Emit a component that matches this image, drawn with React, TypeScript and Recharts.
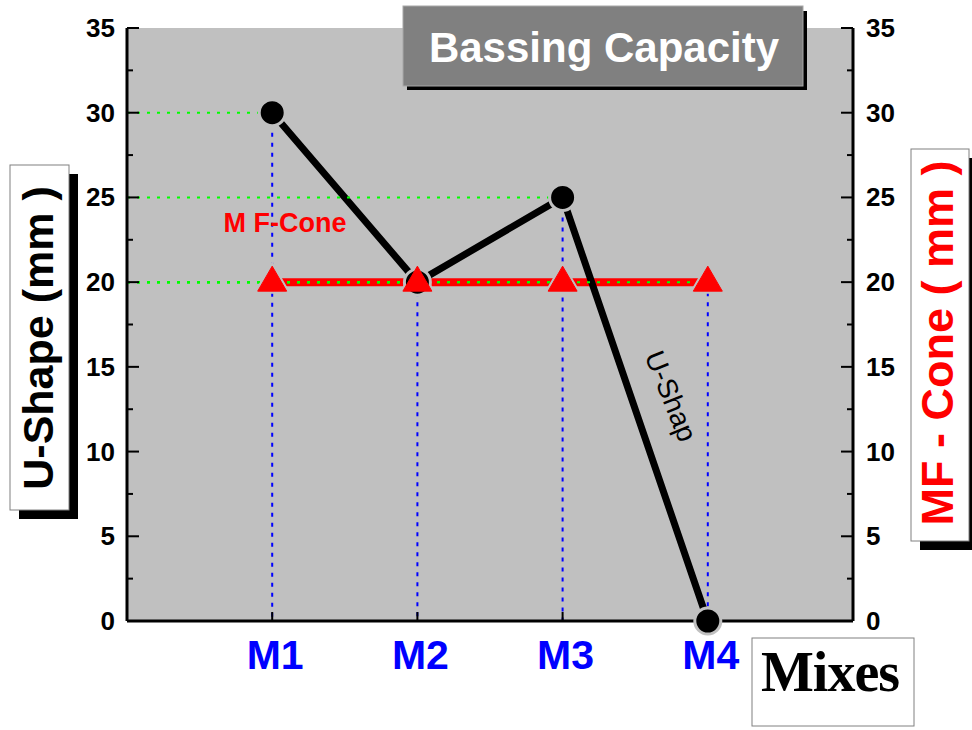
import React from 'react';
import {
  ComposedChart, Line, XAxis, YAxis, CartesianGrid, ReferenceLine,
} from 'recharts';

const categories = ['M1', 'M2', 'M3', 'M4'];
const uShape = [30, 20, 25, 0];
const mfCone = [20, 20, 20, 20];
const yTicks = [0, 2.5, 5, 7.5, 10, 12.5, 15, 17.5, 20, 22.5, 25, 27.5, 30, 32.5, 35];
const xPositions = [1, 2, 3, 4];

const data = categories.map((c, i) => ({
  pos: xPositions[i],
  name: c,
  u: uShape[i],
  mf: mfCone[i],
}));

const FONT = '"Liberation Sans", Arial, sans-serif';
const GREY = '#c0c0c0';

const XTick = (props: any) => {
  const { x, y, payload } = props;
  return (
    <g>
      <line x1={x} x2={x} y1={y} y2={y - 9} stroke="#000" strokeWidth={2} />
      <text x={x + 3} y={y + 48} textAnchor="middle" fill="#0000ff" fontSize={41}
        fontWeight="bold" fontFamily={FONT}>
        {categories[payload.value - 1]}
      </text>
    </g>
  );
};

const LeftTick = (props: any) => {
  const { x, y, payload } = props;
  const major = payload.value % 5 === 0;
  const ax = x + 12;
  return (
    <g>
      <line x1={ax} x2={ax + (major ? 12 : 6)} y1={y} y2={y} stroke="#000" strokeWidth={2} />
      {major && (
        <text x={x} y={y + 9} textAnchor="end" fill="#000" fontSize={26}
          fontWeight="bold" fontFamily={FONT}>{payload.value}</text>
      )}
    </g>
  );
};

const RightTick = (props: any) => {
  const { x, y, payload } = props;
  const major = payload.value % 5 === 0;
  const ax = x - 13;
  return (
    <g>
      <line x1={ax} x2={ax - (major ? 12 : 6)} y1={y} y2={y} stroke="#000" strokeWidth={2} />
      {major && (
        <text x={x} y={y + 9} textAnchor="start" fill="#000" fontSize={26}
          fontWeight="bold" fontFamily={FONT}>{payload.value}</text>
      )}
    </g>
  );
};

const CircleDot = (props: any) => {
  const { cx, cy, index } = props;
  return <circle key={`c${index}`} cx={cx} cy={cy} r={13} fill="#000" stroke={GREY} strokeWidth={3} />;
};

const TriDot = (props: any) => {
  const { cx, cy, index } = props;
  const pts = `${cx},${cy - 16} ${cx - 14.5},${cy + 9} ${cx + 14.5},${cy + 9}`;
  return <polygon key={`t${index}`} points={pts} fill="#ff0000" stroke="#ff0000" strokeWidth={1} />;
};

const TriHalo = (props: any) => {
  const { cx, cy, index } = props;
  const pts = `${cx},${cy - 16} ${cx - 14.5},${cy + 9} ${cx + 14.5},${cy + 9}`;
  return <polygon key={`h${index}`} points={pts} fill={GREY} stroke={GREY} strokeWidth={5} />;
};

export default function App() {
  const segs: any[] = [];
  data.forEach((d, i) => {
    segs.push(
      <ReferenceLine key={`gu${i}`} segment={[{ x: 0, y: d.u }, { x: d.pos, y: d.u }]}
        stroke="#00ff00" strokeWidth={2} strokeDasharray="3 7" ifOverflow="visible" />,
      <ReferenceLine key={`gm${i}`} segment={[{ x: 0, y: d.mf }, { x: d.pos, y: d.mf }]}
        stroke="#00ff00" strokeWidth={2} strokeDasharray="3 7" ifOverflow="visible" />,
      <ReferenceLine key={`b${i}`} segment={[{ x: d.pos, y: Math.max(d.u, d.mf) }, { x: d.pos, y: 0 }]}
        stroke="#0000ff" strokeWidth={2} strokeDasharray="4 6" ifOverflow="visible" />,
    );
  });

  return (
    <div style={{ position: 'absolute', left: 0, top: 0, width: 972, height: 730, background: '#fff' }}>
      <ComposedChart width={972} height={730} data={data}
        margin={{ top: 28, right: 0, bottom: 0, left: 0 }}>
        <CartesianGrid fill={GREY} horizontal={false} vertical={false} />
        <XAxis dataKey="pos" type="number" domain={[0, 5]} ticks={xPositions}
          height={109} tickSize={0} tickMargin={0} tickLine={false}
          axisLine={{ stroke: '#000', strokeWidth: 3 }} tick={<XTick />} interval={0} />
        <XAxis xAxisId="top" dataKey="pos" type="number" domain={[0, 5]} orientation="top"
          height={0} tick={false} tickLine={false}
          axisLine={{ stroke: '#000', strokeWidth: 2 }} />
        <YAxis type="number" domain={[0, 35]} ticks={yTicks} interval={0} width={127}
          tickSize={0} tickMargin={12} tickLine={false}
          axisLine={{ stroke: '#000', strokeWidth: 3 }} tick={<LeftTick />} />
        <YAxis yAxisId="right" orientation="right" type="number" domain={[0, 35]} ticks={yTicks}
          interval={0} width={119} tickSize={0} tickMargin={13} tickLine={false}
          axisLine={{ stroke: '#000', strokeWidth: 3 }} tick={<RightTick />} />
        <Line yAxisId="right" dataKey="mf" stroke="#ff0000" strokeWidth={8} dot={<TriHalo />}
          isAnimationActive={false} />
        <Line dataKey="u" stroke="#000" strokeWidth={7} dot={<CircleDot />}
          isAnimationActive={false} />
        <Line yAxisId="right" dataKey="mf" stroke="none" dot={<TriDot />}
          isAnimationActive={false} legendType="none" />
        {segs}
      </ComposedChart>

      <svg width={972} height={730} style={{ position: 'absolute', left: 0, top: 0, pointerEvents: 'none' }}>
        {/* title */}
        <rect x={407} y={11} width={400} height={79} fill="#000" />
        <rect x={403} y={6} width={400} height={80} fill="#808080" stroke="#a8a8a8" strokeWidth={1} />
        <text x={604} y={62} textAnchor="middle" fill="#fff" fontSize={42} fontWeight="bold"
          fontFamily={FONT}>Bassing Capacity</text>

        {/* left axis title */}
        <rect x={19} y={174} width={59} height={345} fill="#000" />
        <rect x={10} y={165} width={59} height={345} fill="#fff" stroke="#808080" strokeWidth={1} />
        <text transform="translate(53,338) rotate(-90)" textAnchor="middle" fill="#000" fontSize={43}
          fontWeight="bold" fontFamily={FONT}>U-Shape (mm )</text>

        {/* right axis title */}
        <rect x={920} y={158} width={58} height={392} fill="#000" />
        <rect x={911} y={149} width={58} height={392} fill="#fff" stroke="#808080" strokeWidth={1} />
        <text transform="translate(953,343) rotate(-90)" textAnchor="middle" fill="#ff0000" fontSize={45}
          fontWeight="bold" fontFamily={FONT}>MF - Cone ( mm )</text>

        {/* x axis title */}
        <rect x={752} y={638} width={162} height={88} fill="#fff" stroke="#808080" strokeWidth={1} />
        <text x={761} y={691} fill="#000" fontSize={56} fontWeight="bold" letterSpacing={-1}
          fontFamily='"Liberation Serif", "Times New Roman", serif'>Mixes</text>

        {/* series labels */}
        <text x={285} y={232} textAnchor="middle" fill="#ff0000" fontSize={27} fontWeight="bold"
          fontFamily={FONT}>M F-Cone</text>
        <text transform="translate(669,397) rotate(68)" textAnchor="middle" fill="#000" fontSize={28}
          dominantBaseline="middle" fontFamily={FONT}>U-Shap</text>
      </svg>
    </div>
  );
}
